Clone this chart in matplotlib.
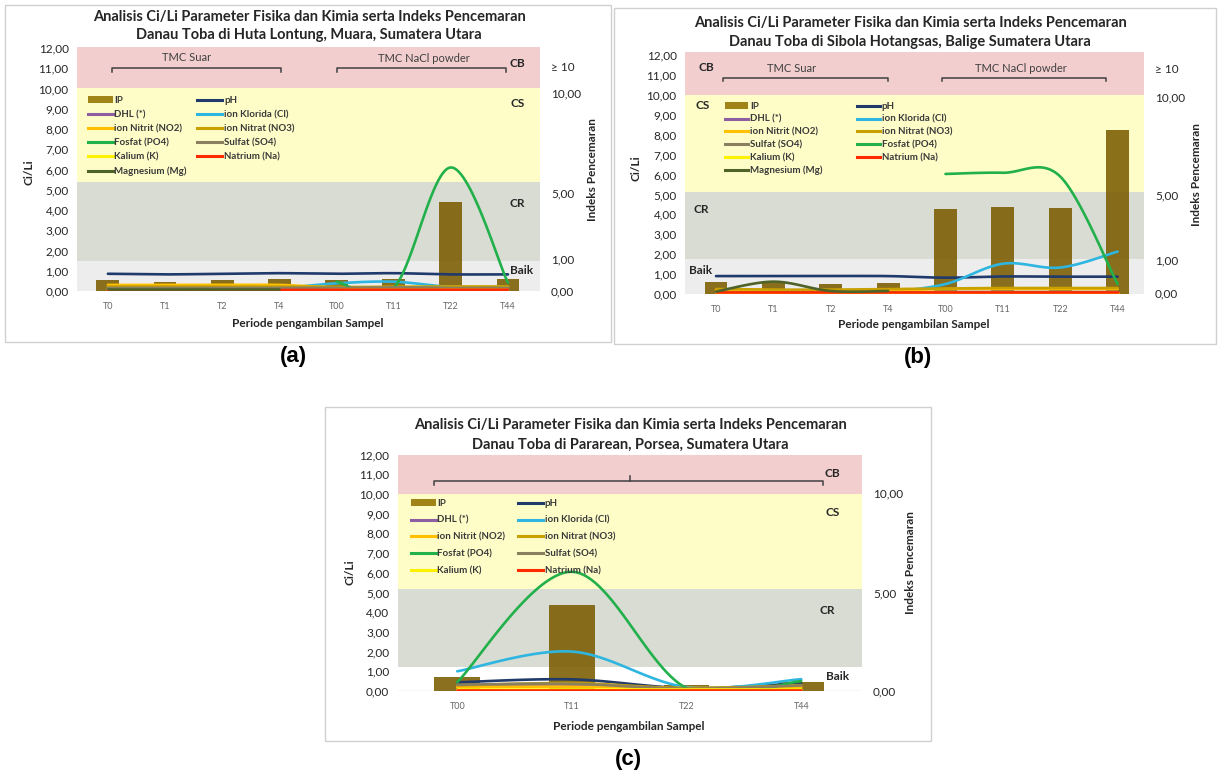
import numpy as np
import matplotlib.pyplot as plt
from matplotlib.patches import Rectangle, Patch
from matplotlib.lines import Line2D

plt.rcParams['font.family'] = ['Lato', 'DejaVu Sans']

W, H = 1218, 776
nan = np.nan

# ---------------- data ----------------
cats_ab = ['T0', 'T1', 'T2', 'T4', 'T00', 'T11', 'T22', 'T44']
cats_c = ['T00', 'T11', 'T22', 'T44']

# (a) Huta Lontung, Muara   (IP drawn in Ci/Li chart units)
a_ip = [0.55, 0.45, 0.55, 0.60, 0.55, 0.60, 4.40, 0.60]
a_ph = [0.85, 0.82, 0.85, 0.88, 0.85, 0.88, 0.82, 0.82]
a_dhl = [0.10, 0.10, 0.10, 0.10, 0.12, 0.12, 0.10, 0.10]
a_cl = [0.15, 0.15, 0.15, 0.15, 0.38, 0.46, 0.20, 0.20]
a_no2 = [0.30, 0.30, 0.30, 0.30, 0.18, 0.20, 0.20, 0.20]
a_no3 = [0.22, 0.22, 0.22, 0.22, 0.20, 0.20, 0.22, 0.22]
a_po4 = [nan, nan, nan, nan, 0.46, 0.15, 6.10, 0.40]
a_so4 = [0.15, 0.15, 0.15, 0.15, 0.15, 0.18, 0.15, 0.15]
a_k = [0.02, 0.02, 0.02, 0.02, 0.05, 0.05, 0.05, 0.05]
a_na = [0.03, 0.03, 0.04, 0.05, 0.06, 0.06, 0.06, 0.06]
a_mg = [0.12, 0.12, 0.12, 0.12, nan, nan, nan, nan]

# (b) Sibola Hotangsas, Balige
b_ip = [0.62, 0.55, 0.50, 0.55, 4.28, 4.35, 4.30, 8.25]
b_ph = [0.90, 0.90, 0.90, 0.90, 0.82, 0.88, 0.87, 0.87]
b_dhl = [0.08, 0.08, 0.08, 0.08, 0.10, 0.10, 0.10, 0.10]
b_cl = [nan, nan, nan, 0.08, 0.50, 1.52, 1.33, 2.13]
b_no2 = [0.18, 0.18, 0.18, 0.18, 0.25, 0.25, 0.25, 0.25]
b_no3 = [0.25, 0.22, 0.22, 0.25, 0.28, 0.30, 0.30, 0.30]
b_so4 = [0.12, 0.12, 0.12, 0.12, 0.12, 0.12, 0.12, 0.12]
b_po4 = [nan, nan, nan, nan, 6.03, 6.09, 5.90, 0.50]
b_k = [0.03, 0.03, 0.03, 0.03, 0.03, 0.03, 0.03, 0.03]
b_na = [0.08, 0.08, 0.08, 0.08, 0.08, 0.08, 0.08, 0.08]
b_mg = [0.12, 0.62, 0.15, 0.15, nan, nan, nan, nan]

# (c) Pararean, Porsea
c_ip = [0.72, 4.36, 0.30, 0.47]
c_ph = [0.44, 0.59, 0.15, 0.39]
c_dhl = [0.20, 0.30, 0.10, 0.20]
c_cl = [1.00, 2.00, 0.20, 0.60]
c_no2 = [0.20, 0.22, 0.15, 0.20]
c_no3 = [0.28, 0.40, 0.15, 0.30]
c_po4 = [0.45, 6.05, 0.15, 0.50]
c_so4 = [0.32, 0.36, 0.12, 0.28]
c_k = [0.12, 0.12, 0.12, 0.12]
c_na = [0.03, 0.03, 0.03, 0.03]

title_1 = 'Analisis Ci/Li Parameter Fisika dan Kimia serta Indeks Pencemaran'
titles_2 = ['Danau Toba di Huta Lontung, Muara, Sumatera Utara',
            'Danau Toba di Sibola Hotangsas, Balige Sumatera Utara',
            'Danau Toba di Pararean, Porsea, Sumatera Utara']

colors = {
    'pH': '#1F3A6B', 'DHL (*)': '#8E5EA2', 'ion Klorida (Cl)': '#2EB5E0',
    'ion Nitrit (NO2)': '#FFC000', 'ion Nitrat (NO3)': '#C8A000',
    'Fosfat (PO4)': '#22B04B', 'Sulfat (SO4)': '#8A8060',
    'Kalium (K)': '#FFF200', 'Natrium (Na)': '#FF2A00',
    'Magnesium (Mg)': '#4F6228',
}
ip_color = '#7A5C00'
band_cols = ['#EDEDED', '#D8DCD3', '#FEFDC8', '#F2CECF']


def fx(x):
    return x / W


def fy(y):
    return 1 - y / H


def smooth(x, y, n=30):
    """Catmull-Rom curve through the points (like Excel smoothed lines)."""
    x = np.asarray(x, float)
    y = np.asarray(y, float)
    if len(x) < 2:
        return x, y
    px = np.r_[x[0], x, x[-1]]
    py = np.r_[y[0], y, y[-1]]
    xs, ys = [], []
    t = np.linspace(0, 1, n)
    h00 = 2 * t**3 - 3 * t**2 + 1
    h10 = t**3 - 2 * t**2 + t
    h01 = -2 * t**3 + 3 * t**2
    h11 = t**3 - t**2
    for i in range(1, len(px) - 2):
        mx0, my0 = (px[i + 1] - px[i - 1]) / 2, (py[i + 1] - py[i - 1]) / 2
        mx1, my1 = (px[i + 2] - px[i]) / 2, (py[i + 2] - py[i]) / 2
        xs.append(h00 * px[i] + h10 * mx0 + h01 * px[i + 1] + h11 * mx1)
        ys.append(h00 * py[i] + h10 * my0 + h01 * py[i + 1] + h11 * my1)
    return np.concatenate(xs), np.concatenate(ys)


def draw_series(ax, y, color):
    y = np.asarray(y, float)
    x = np.arange(len(y))
    ok = ~np.isnan(y)
    idx = np.where(ok)[0]
    groups = np.split(idx, np.where(np.diff(idx) > 1)[0] + 1)
    for g in groups:
        sx, sy = smooth(x[g], y[g])
        ax.plot(sx, sy, color=color, lw=1.9, solid_capstyle='round', zorder=3)


def fmt(v):
    return f'{v:.2f}'.replace('.', ',')


def panel(box, rect, cats, xlim, ylim, edges, ip, series, right_ticks, right_labels,
          band_text, brackets, bracket_text, leg_cols, leg_kw, leg_xy,
          title_xy, xlabel_xy, cili_xy, ip_label_xy, letter, letter_xy, k,
          baik_white=False):
    fig.add_artist(Rectangle((fx(box[0]), fy(box[3])), fx(box[2] - box[0]),
                             (box[3] - box[1]) / H, transform=fig.transFigure,
                             fill=False, edgecolor='#D0D0D0', lw=1.0))
    l, t, r, b = rect
    ax = fig.add_axes([fx(l), fy(b), fx(r - l), (b - t) / H])
    ax.set_xlim(*xlim)
    ax.set_ylim(*ylim)
    for i in range(4):
        c = '#FFFFFF' if (i == 0 and baik_white) else band_cols[i]
        ax.axhspan(edges[i], edges[i + 1], color=c, lw=0, zorder=0)
    if baik_white:
        ax.axhline(0, color='#D9D9D9', lw=1, zorder=1)
    x = np.arange(len(cats))
    ax.bar(x, ip, width=0.4, color=ip_color, alpha=0.88, zorder=2)
    for name, vals in series:
        draw_series(ax, vals, colors[name])
    for s in ax.spines.values():
        s.set_visible(False)
    ax.set_xticks(x)
    ax.set_xticklabels(cats)
    ax.set_yticks(np.arange(0, 13))
    ax.set_yticklabels([fmt(v) for v in range(13)])
    ax.tick_params(axis='x', length=0, labelsize=6.5, colors='#666666', pad=8)
    ax.tick_params(axis='y', length=0, labelsize=8.5, colors='#262626', pad=6)

    ax2 = ax.twinx()
    ax2.set_ylim(*ylim)
    for s in ax2.spines.values():
        s.set_visible(False)
    ax2.set_yticks(right_ticks)
    ax2.set_yticklabels(right_labels)
    ax2.tick_params(axis='y', length=0, labelsize=8.5, colors='#262626', pad=8)

    for txt, xx, yy in band_text:
        ax.text(xx, yy, txt, ha='center', va='center', fontsize=8.5,
                fontweight='bold', color='#262626', zorder=5)
    for x0, x1, yl, ylow, mid in brackets:
        ax.plot([x0, x0, x1, x1], [ylow, yl, yl, ylow], color='#404040', lw=1.1, zorder=5)
        if mid is not None:
            ax.plot([mid, mid], [yl, yl + 0.25], color='#404040', lw=1.1, zorder=5)
    for txt, xx, yy in bracket_text:
        ax.text(xx, yy, txt, ha='center', va='center', fontsize=8,
                color='#404040', zorder=5)

    handles, labels = [], []
    for name in leg_cols:
        if name == 'IP':
            handles.append(Patch(facecolor='#A08418', edgecolor='none'))
        else:
            handles.append(Line2D([], [], color=colors[name], lw=2.2))
        labels.append(name)
    leg = ax.legend(handles, labels, ncol=2, loc='upper left',
                    bbox_to_anchor=(fx(leg_xy[0]), fy(leg_xy[1])),
                    bbox_transform=fig.transFigure, frameon=False,
                    borderpad=0, borderaxespad=0, handletextpad=0.15,
                    handleheight=0.6, prop={'size': 7, 'weight': 'bold'}, **leg_kw)
    for tx in leg.get_texts():
        tx.set_color('#3A3A3A')
    leg.set_zorder(6)

    fig.text(fx(title_xy[0]), fy(title_xy[1]), title_1, ha='center', va='center',
             fontsize=10.5, fontweight='bold', color='#262626')
    fig.text(fx(title_xy[0]), fy(title_xy[2]), titles_2[k], ha='center', va='center',
             fontsize=10.5, fontweight='bold', color='#262626')
    fig.text(fx(xlabel_xy[0]), fy(xlabel_xy[1]), 'Periode pengambilan Sampel',
             ha='center', va='center', fontsize=8.5, fontweight='bold', color='#262626')
    fig.text(fx(cili_xy[0]), fy(cili_xy[1]), 'Ci/Li', ha='center', va='center',
             rotation=90, fontsize=8.5, fontweight='bold', color='#262626')
    fig.text(fx(ip_label_xy[0]), fy(ip_label_xy[1]), 'Indeks Pencemaran', ha='center',
             va='center', rotation=90, fontsize=8.5, fontweight='bold', color='#262626')
    fig.text(fx(letter_xy[0]), fy(letter_xy[1]), letter, ha='center', va='center',
             fontsize=16, fontweight='bold', family='Liberation Sans', color='black')
    return ax


fig = plt.figure(figsize=(W / 100, H / 100), dpi=100)
fig.patch.set_facecolor('white')

series_a = [('pH', a_ph), ('DHL (*)', a_dhl), ('ion Klorida (Cl)', a_cl),
            ('ion Nitrit (NO2)', a_no2), ('ion Nitrat (NO3)', a_no3),
            ('Fosfat (PO4)', a_po4), ('Sulfat (SO4)', a_so4), ('Kalium (K)', a_k),
            ('Natrium (Na)', a_na), ('Magnesium (Mg)', a_mg)]
series_b = [('pH', b_ph), ('DHL (*)', b_dhl), ('ion Klorida (Cl)', b_cl),
            ('ion Nitrit (NO2)', b_no2), ('ion Nitrat (NO3)', b_no3),
            ('Sulfat (SO4)', b_so4), ('Fosfat (PO4)', b_po4), ('Kalium (K)', b_k),
            ('Natrium (Na)', b_na), ('Magnesium (Mg)', b_mg)]
series_c = [('pH', c_ph), ('DHL (*)', c_dhl), ('ion Klorida (Cl)', c_cl),
            ('ion Nitrit (NO2)', c_no2), ('ion Nitrat (NO3)', c_no3),
            ('Fosfat (PO4)', c_po4), ('Sulfat (SO4)', c_so4), ('Kalium (K)', c_k),
            ('Natrium (Na)', c_na)]

panel(box=(5, 5, 611, 342), rect=(77, 46.7, 540, 291), cats=cats_ab,
      xlim=(-0.54, 7.56), ylim=(0, 12.06), edges=[0, 1.5, 5.4, 10, 12.06],
      ip=a_ip, series=series_a,
      right_ticks=[0, 1.6, 4.85, 9.8, 11.1],
      right_labels=['0,00', '1,00', '5,00', '10,00', '≥ 10'],
      band_text=[('CB', 7.16, 11.25), ('CS', 7.16, 9.27), ('CR', 7.16, 4.3),
                 ('Baik', 7.23, 1.0)],
      brackets=[(0.07, 3.03, 11.03, 10.8, None), (4.0, 6.97, 11.03, 10.8, None)],
      bracket_text=[('TMC Suar', 1.37, 11.52), ('TMC NaCl powder', 5.52, 11.5)],
      leg_cols=['IP', 'DHL (*)', 'ion Nitrit (NO2)', 'Fosfat (PO4)', 'Kalium (K)',
                'Magnesium (Mg)', 'pH', 'ion Klorida (Cl)', 'ion Nitrat (NO3)',
                'Sulfat (SO4)', 'Natrium (Na)'],
      leg_kw=dict(handlelength=2.57, columnspacing=1.08, labelspacing=0.52),
      leg_xy=(88, 96), title_xy=(309, 17, 35), xlabel_xy=(308, 323),
      cili_xy=(29, 172), ip_label_xy=(592, 170), letter='(a)', letter_xy=(293, 357), k=0)

panel(box=(614, 8, 1216, 344), rect=(685, 51.7, 1144, 294), cats=cats_ab,
      xlim=(-0.54, 7.46), ylim=(0, 12.17), edges=[0, 1.75, 5.1, 10, 12.17],
      ip=b_ip, series=series_b,
      right_ticks=[0.05, 1.7, 5.0, 9.9, 11.34],
      right_labels=['0,00', '1,00', '5,00', '10,00', '≥ 10'],
      band_text=[('CB', -0.17, 11.37), ('CS', -0.23, 9.45), ('CR', -0.26, 4.22),
                 ('Baik', -0.27, 1.16)],
      brackets=[(0.12, 3.0, 10.85, 10.68, None), (3.94, 6.8, 10.85, 10.68, None)],
      bracket_text=[('TMC Suar', 1.32, 11.34), ('TMC NaCl powder', 5.31, 11.34)],
      leg_cols=['IP', 'DHL (*)', 'ion Nitrit (NO2)', 'Sulfat (SO4)', 'Kalium (K)',
                'Magnesium (Mg)', 'pH', 'ion Klorida (Cl)', 'ion Nitrat (NO3)',
                'Fosfat (PO4)', 'Natrium (Na)'],
      leg_kw=dict(handlelength=2.4, columnspacing=3.55, labelspacing=0.38),
      leg_xy=(725, 102), title_xy=(910, 23, 42), xlabel_xy=(914, 324),
      cili_xy=(636, 168), ip_label_xy=(1196, 175), letter='(b)', letter_xy=(918, 358), k=1)

panel(box=(325, 407, 931, 741), rect=(397.6, 454.5, 862, 691), cats=cats_c,
      xlim=(-0.52, 3.53), ylim=(0, 12.0), edges=[0, 1.23, 5.2, 10, 11.95],
      ip=c_ip, series=series_c,
      right_ticks=[0, 4.96, 10.03], right_labels=['0,00', '5,00', '10,00'],
      band_text=[('CB', 3.27, 11.06), ('CS', 3.27, 9.08), ('CR', 3.23, 4.07),
                 ('Baik', 3.32, 0.72)],
      brackets=[(-0.2, 3.19, 10.64, 10.43, 1.51)],
      bracket_text=[],
      leg_cols=['IP', 'DHL (*)', 'ion Nitrit (NO2)', 'Fosfat (PO4)', 'Kalium (K)',
                'pH', 'ion Klorida (Cl)', 'ion Nitrat (NO3)', 'Sulfat (SO4)',
                'Natrium (Na)'],
      leg_kw=dict(handlelength=2.57, columnspacing=1.3, labelspacing=0.8),
      leg_xy=(411, 499), title_xy=(630, 425, 445), xlabel_xy=(629, 726),
      cili_xy=(350, 572), ip_label_xy=(911, 563), letter='(c)', letter_xy=(628, 760), k=2,
      baik_white=True)

fig.savefig('out.png', dpi=100, facecolor='white')
